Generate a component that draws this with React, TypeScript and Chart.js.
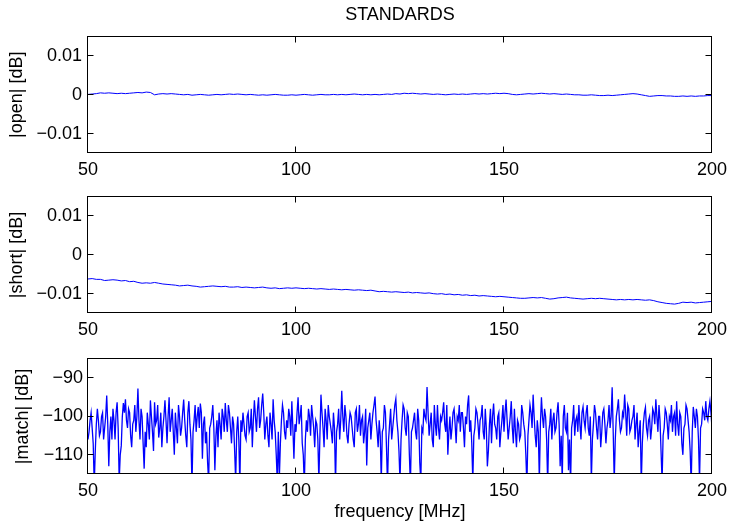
import React, { useEffect, useRef } from "react";
import { Chart, registerables } from "chart.js";

Chart.register(...registerables);

const FONT = "'Liberation Sans', Arial, Helvetica, sans-serif";

const freqStart = 50;
const freqEnd = 200;
const freqTicks = [50, 100, 150, 200];
const standardTicks = [-0.01, 0, 0.01];
const matchTicks = [-110, -100, -90];

const titleText = "STANDARDS";
const xAxisLabel = "frequency [MHz]";
const openLabel = "|open| [dB]";
const shortLabel = "|short| [dB]";
const matchLabel = "|match| [dB]";

// |open| in dB, 1 MHz steps from 50 to 200 MHz
const openDb = [
  0.0001, 0.0002, 0.0003, 0.0005, 0.0004, 0.0005, 0.0004, 0.0003, 0.0004, 0.0003,
  0.0004, 0.0005, 0.0006, 0.0005, 0.0007, 0.0006, 0.0, 0.0002, 0.0003, 0.0002,
  0.0003, 0.0002, 0.0001, 0.0, 0.0001, -0.0001, 0.0, 0.0001, 0.0, -0.0001,
  0.0, 0.0001, 0.0, 0.0001, 0.0002, 0.0001, 0.0002, 0.0001, 0.0, 0.0001,
  0.0, -0.0001, 0.0, -0.0001, 0.0, 0.0001, 0.0, -0.0001, -0.0001, 0.0,
  -0.0001, 0.0, 0.0001, 0.0, -0.0001, 0.0, 0.0001, 0.0, 0.0, 0.0001,
  0.0, 0.0001, 0.0, 0.0001, 0.0002, 0.0001, 0.0, 0.0001, 0.0, 0.0001,
  0.0, 0.0001, 0.0002, 0.0001, 0.0003, 0.0002, 0.0004, 0.0003, 0.0004, 0.0003,
  0.0002, 0.0003, 0.0002, 0.0001, 0.0002, 0.0001, 0.0, 0.0001, 0.0002, 0.0001,
  0.0002, 0.0001, 0.0002, 0.0003, 0.0002, 0.0003, 0.0002, 0.0003, 0.0004, 0.0003,
  0.0004, 0.0003, 0.0001, 0.0, 0.0001, 0.0002, 0.0003, 0.0002, 0.0003, 0.0004,
  0.0003, 0.0002, 0.0003, 0.0002, 0.0001, 0.0002, 0.0001, 0.0, 0.0, -0.0001,
  -0.0001, 0.0, -0.0001, -0.0002, -0.0002, -0.0001, -0.0002, -0.0001, 0.0, 0.0001,
  0.0002, 0.0003, 0.0002, 0.0, -0.0002, -0.0004, -0.0003, -0.0002, -0.0002, -0.0003,
  -0.0003, -0.0004, -0.0004, -0.0003, -0.0004, -0.0003, -0.0004, -0.0003, -0.0003, -0.0002,
  -0.0002,
];

// |short| in dB, 1 MHz steps from 50 to 200 MHz
const shortDb = [
  -0.0062, -0.0061, -0.0063, -0.0063, -0.0066, -0.0065, -0.0064, -0.0065, -0.0067, -0.0066,
  -0.0069, -0.0068, -0.0071, -0.0073, -0.0072, -0.0073, -0.0071, -0.0073, -0.0075, -0.0076,
  -0.0077, -0.0078, -0.008, -0.0079, -0.0078, -0.008, -0.0081, -0.0083, -0.0082, -0.0081,
  -0.008, -0.0081, -0.0082, -0.0081, -0.0083, -0.0083, -0.0082, -0.0084, -0.0083, -0.0084,
  -0.0085, -0.0084, -0.0083, -0.0085, -0.0086, -0.0085, -0.0087, -0.0086, -0.0085, -0.0086,
  -0.0085, -0.0086, -0.0087, -0.0086, -0.0087, -0.0088, -0.0087, -0.0088, -0.0089, -0.0088,
  -0.0089, -0.009, -0.0089, -0.009, -0.0091, -0.009, -0.0091, -0.0092, -0.0091, -0.0093,
  -0.0095, -0.0094, -0.0095, -0.0096, -0.0095, -0.0096, -0.0097, -0.0096, -0.0098, -0.0097,
  -0.0098, -0.0099, -0.0098, -0.01, -0.0101, -0.01, -0.0102, -0.0101, -0.0103, -0.0102,
  -0.0104, -0.0103, -0.0105, -0.0104, -0.0106, -0.0105, -0.0106, -0.0107, -0.0108, -0.0107,
  -0.0108, -0.0109, -0.011, -0.0111, -0.0112, -0.0112, -0.0111, -0.011, -0.0111, -0.011,
  -0.0112, -0.0114, -0.0113, -0.0111, -0.011, -0.0109, -0.0111, -0.0112, -0.0113, -0.0114,
  -0.0113, -0.0112, -0.0113, -0.0112, -0.0113, -0.0114, -0.0115, -0.0116, -0.0115, -0.0116,
  -0.0115, -0.0116, -0.0115, -0.0116, -0.0117, -0.0116, -0.0118, -0.0121, -0.0123, -0.0125,
  -0.0126, -0.0127, -0.0125, -0.0122, -0.0123, -0.0122, -0.0124, -0.0123, -0.0122, -0.0121,
  -0.012,
];

// |match| in dB, 0.25 MHz steps from 50 to 200 MHz
const matchDb = [
  -106, -104, -101, -99, -103, -107, -118, -109, -102, -98, -101, -105, -104, -100, -99, -106, -103, -100, -94.5, -102,
  -113, -104, -100, -106, -98, -101, -106, -99, -96.3, -103, -117, -110, -107.6, -100, -96.5, -99, -95.5, -101, -103, -98,
  -99, -105, -108, -102, -101, -97, -104, -100, -92.7, -101, -106, -98, -100, -107, -113.6, -104, -108, -99, -102, -106,
  -95.8, -100, -104, -109, -96.3, -102, -101, -97, -105.5, -103, -99, -108, -103, -100, -95.8, -101, -107, -100, -95, -104,
  -101, -98, -104, -110, -99, -103, -107, -97, -100, -105, -103, -99, -95.6, -101, -105, -108, -99, -96, -102, -106,
  -118, -104, -101, -97, -104, -100, -97.5, -103, -96.6, -99, -111, -102, -100, -107, -104, -112, -117, -103, -102, -100,
  -97, -103, -114, -105, -101, -108, -99, -102, -106, -98, -100, -104, -96.5, -101, -104, -97, -99, -103, -107, -100,
  -102, -109, -117, -104, -100, -106, -118, -101, -104, -99, -102, -105, -106, -100, -99, -104, -103, -98, -108, -101,
  -95.8, -100, -104, -98, -95, -103, -101, -97, -94, -99, -106, -102, -100, -105, -108, -99, -102, -106, -95.5, -101,
  -104, -110, -117, -104, -116, -107, -101, -97, -99, -104, -106, -101, -103, -98, -100, -105, -96, -103, -111, -102,
  -104, -99, -95, -102, -100, -97, -107, -110, -118, -106, -101, -104, -98, -100, -105, -97, -100, -103, -108, -101,
  -102, -106, -117, -105, -94.3, -99, -103, -108, -98, -101, -106, -97, -100, -102, -104, -107, -99, -103, -118, -104,
  -102, -98, -106, -101, -93.3, -100, -104, -97, -100, -105, -107, -102, -99, -100, -103, -106, -108, -99, -98, -104,
  -102, -97, -105, -101, -100, -107, -104, -98, -112.8, -103, -101, -99, -106, -102, -99, -97, -94.8, -101, -104, -108,
  -101, -105, -117, -104, -103, -97, -99, -108, -118, -106, -102, -98, -106, -103, -100, -97, -95.4, -101, -104, -109,
  -117, -106, -101, -97, -98, -103, -105, -99, -100, -110, -118, -104, -103, -101, -99, -104, -106, -98, -101, -112,
  -117, -103, -104, -98, -100, -101, -92.3, -99, -105, -102, -99, -106, -108, -97, -102, -105, -97, -103, -106, -100,
  -101, -99, -96.3, -102, -104, -97, -110, -104, -100, -106, -103, -99, -98, -102, -107, -100, -101, -97, -104, -99,
  -99, -103, -108, -100, -102, -97, -94.5, -104, -101, -107, -117, -105, -103, -98, -99, -102, -106, -101, -100, -97,
  -104, -106, -98, -103, -113, -109, -102, -98, -107, -100, -96.6, -102, -103, -106, -100, -99, -108, -104, -101, -97,
  -104, -99, -95.6, -101, -106, -103, -100, -96, -103, -107, -98, -104, -108, -101, -102, -106, -105, -97, -99, -102,
  -104, -110, -118, -105, -101, -97, -99, -103, -94.3, -100, -105, -108, -101, -104, -117, -102, -95, -100, -103, -98,
  -100, -106, -118, -104, -102, -98, -106, -101, -99, -104, -103, -99, -96.3, -102, -113, -105, -117, -100, -97, -103,
  -104, -99, -114, -106, -118, -103, -101, -97, -105, -101, -100, -104, -97, -102, -106, -99, -97.5, -101, -103, -99,
  -97, -103, -105, -100, -117, -106, -102, -97, -99, -103, -106, -100, -100, -108, -104, -99, -98, -102, -107, -103,
  -101, -97, -103, -100, -92.4, -104, -117, -106, -100, -98, -95.5, -101, -104, -103, -99, -100, -94.3, -99, -105, -97,
  -98, -104, -103, -101, -100, -97, -106, -102, -99, -108, -104, -101, -118, -107, -102, -99, -97.6, -103, -105, -101,
  -100, -106, -103, -98, -99, -102, -95.5, -100, -104, -97, -101, -109, -117, -105, -103, -98, -99, -102, -106, -100,
  -101, -97, -104, -100, -99, -105, -96, -102, -105, -99, -100, -107, -110, -103, -102, -97, -98, -101, -104, -109,
  -118, -104, -97.5, -100, -103, -98, -100, -106, -117, -103, -102, -98, -99, -101, -96, -100, -101, -98, -96, -99,
  -103,
];

const minusFmt = (v: number): string => (v < 0 ? "\u2212" + String(Math.abs(v)) : String(v === 0 ? 0 : v));

const boxPlugin = {
  id: "matlabBox",
  afterDraw(chart: any) {
    const { ctx, chartArea } = chart;
    const xs = chart.scales.x;
    const ys = chart.scales.y;
    const left = Math.round(chartArea.left) - 0.5;
    const right = Math.round(chartArea.right) - 0.5;
    const top = Math.round(chartArea.top) - 0.5;
    const bottom = Math.round(chartArea.bottom) - 0.5;
    const L = 6;
    ctx.save();
    ctx.strokeStyle = "#000";
    ctx.lineWidth = 1;
    ctx.beginPath();
    xs.ticks.forEach((t: any) => {
      const px = Math.round(xs.getPixelForValue(t.value)) - 0.5;
      ctx.moveTo(px, bottom);
      ctx.lineTo(px, bottom - L);
      ctx.moveTo(px, top);
      ctx.lineTo(px, top + L);
    });
    ys.ticks.forEach((t: any) => {
      const py = Math.round(ys.getPixelForValue(t.value)) - 0.5;
      ctx.moveTo(left, py);
      ctx.lineTo(left + L, py);
      ctx.moveTo(right, py);
      ctx.lineTo(right - L, py);
    });
    ctx.stroke();
    ctx.strokeRect(left, top, right - left, bottom - top);
    ctx.restore();
  },
};

type PanelCfg = {
  values: number[];
  yLabel: string;
  yMin: number;
  yMax: number;
  yTicks: number[];
  top: number;
  height: number;
  padTop: number;
  title?: string;
  xTitle?: string;
  yTitlePad: number;
  yTickPad: number;
  xAxisHeight: number;
  lineWidth: number;
};

function Panel({ cfg }: { cfg: PanelCfg }) {
  const ref = useRef<HTMLCanvasElement>(null);
  useEffect(() => {
    const canvas = ref.current;
    if (!canvas) return;
    const n = cfg.values.length;
    const data = cfg.values.map((v, i) => ({
      x: freqStart + ((freqEnd - freqStart) * i) / (n - 1),
      y: v,
    }));
    const tickFont = { family: FONT, size: 18 };
    const chart = new Chart(canvas, {
      type: "line",
      data: {
        datasets: [
          {
            data,
            borderColor: "#0000ff",
            borderWidth: cfg.lineWidth,
            pointRadius: 0,
            fill: false,
            tension: 0,
          },
        ],
      },
      options: {
        animation: false,
        responsive: false,
        devicePixelRatio: 1,
        events: [],
        layout: { padding: { left: 0, right: 18, top: cfg.padTop, bottom: 0 } },
        plugins: {
          legend: { display: false },
          tooltip: { enabled: false },
          title: cfg.title
            ? {
                display: true,
                text: cfg.title,
                color: "#000",
                fullSize: false,
                font: { family: FONT, size: 18, weight: "normal" },
                padding: { top: 4, bottom: 11 },
              }
            : { display: false },
        },
        scales: {
          x: {
            type: "linear",
            min: freqStart,
            max: freqEnd,
            afterBuildTicks: (s: any) => {
              s.ticks = freqTicks.map((v) => ({ value: v }));
            },
            afterFit: (s: any) => {
              s.height = cfg.xAxisHeight;
              s.paddingLeft = 0;
              s.paddingRight = 0;
            },
            grid: { display: false, drawTicks: false },
            border: { display: false },
            ticks: {
              padding: 6,
              color: "#000",
              font: tickFont,
              maxRotation: 0,
              autoSkip: false,
              callback: (v: any) => String(v),
            },
            title: cfg.xTitle
              ? {
                  display: true,
                  text: cfg.xTitle,
                  color: "#000",
                  font: tickFont,
                  padding: { top: 0, bottom: 0 },
                }
              : { display: false },
          },
          y: {
            type: "linear",
            min: cfg.yMin,
            max: cfg.yMax,
            afterBuildTicks: (s: any) => {
              s.ticks = cfg.yTicks.map((v) => ({ value: v }));
            },
            afterFit: (s: any) => {
              s.width = 88;
              s.paddingTop = 0;
              s.paddingBottom = 0;
            },
            grid: { display: false, drawTicks: false },
            border: { display: false },
            ticks: {
              padding: cfg.yTickPad,
              color: "#000",
              font: tickFont,
              autoSkip: false,
              callback: (v: any) => minusFmt(Number(v)),
            },
            title: {
              display: true,
              text: cfg.yLabel,
              color: "#000",
              font: tickFont,
              padding: { top: cfg.yTitlePad, bottom: 0 },
            },
          },
        },
      },
      plugins: [boxPlugin],
    } as any);
    return () => chart.destroy();
  }, [cfg]);
  return (
    <canvas
      ref={ref}
      width={730}
      height={cfg.height}
      style={{ position: "absolute", left: 0, top: cfg.top, width: 730, height: cfg.height, display: "block" }}
    />
  );
}

const panels: PanelCfg[] = [
  {
    values: openDb,
    yLabel: openLabel,
    yMin: -0.015,
    yMax: 0.015,
    yTicks: standardTicks,
    top: 0,
    height: 180,
    padTop: 0,
    title: titleText,
    yTitlePad: 6,
    yTickPad: 6,
    xAxisHeight: 27,
    lineWidth: 1,
  },
  {
    values: shortDb,
    yLabel: shortLabel,
    yMin: -0.015,
    yMax: 0.015,
    yTicks: standardTicks,
    top: 180,
    height: 160,
    padTop: 17,
    yTitlePad: 6,
    yTickPad: 6,
    xAxisHeight: 27,
    lineWidth: 1,
  },
  {
    values: matchDb,
    yLabel: matchLabel,
    yMin: -115,
    yMax: -85,
    yTicks: matchTicks,
    top: 340,
    height: 183,
    padTop: 19,
    xTitle: xAxisLabel,
    yTitlePad: 12,
    yTickPad: 5,
    xAxisHeight: 49,
    lineWidth: 1.3,
  },
];

export default function App() {
  return (
    <div
      style={{
        position: "fixed",
        left: 0,
        top: 0,
        width: 730,
        height: 523,
        background: "#fff",
        overflow: "hidden",
      }}
    >
      {panels.map((p, i) => (
        <Panel key={i} cfg={p} />
      ))}
    </div>
  );
}
